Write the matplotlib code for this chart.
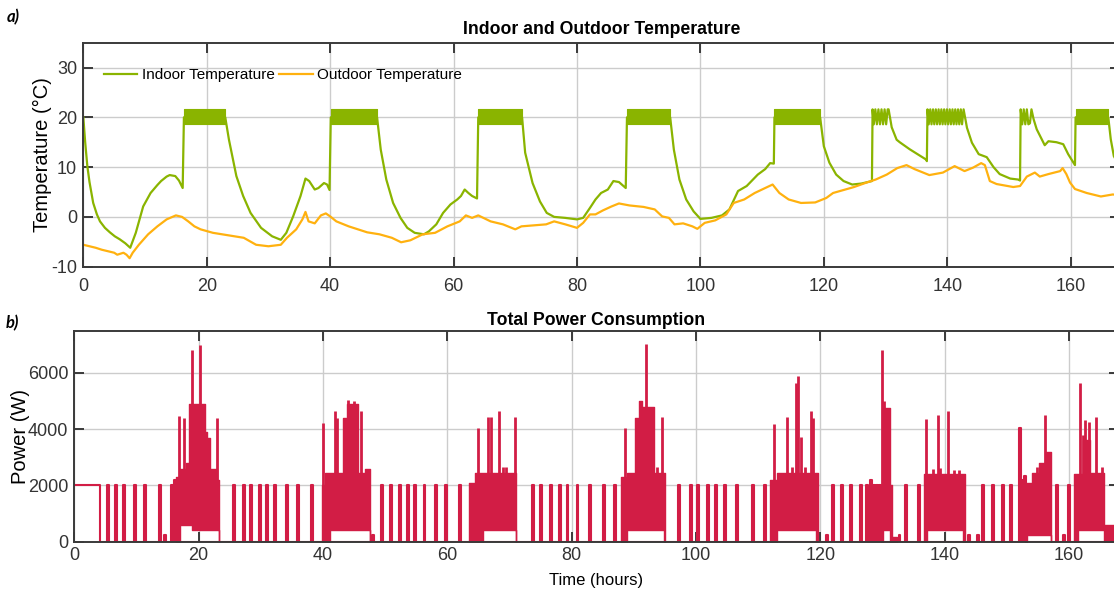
import numpy as np
import matplotlib
matplotlib.use('Agg')
import matplotlib.pyplot as plt

plt.rcParams['font.family'] = ['Liberation Sans', 'DejaVu Sans']
plt.rcParams['axes.unicode_minus'] = False

GREEN = '#8ab400'
ORANGE = '#ffb10f'
RED = '#d21d45'
GRID = '#cccccc'
SPINE = '#3a3a3a'
NARROW = ['Liberation Sans Narrow', 'Liberation Sans', 'DejaVu Sans']

# ---------------- temperature data (hours, deg C) ----------------
indoor_t = [
    0.0, 0.3, 0.65, 1.0, 1.6, 2.2, 2.7, 3.5, 4.3, 5.1, 5.9, 6.8, 7.6, 8.5, 9.7, 10.9, 12.0, 12.6, 13.5, 14.0, 14.9, 15.5, 16.1, 16.3,
    23.0, 23.6, 24.8, 25.9, 27.1, 28.8, 30.6, 32.0, 32.9, 34.0, 35.2, 36.0, 36.6, 37.5, 38.1, 39.0, 39.5, 39.9, 40.1,
    47.6, 48.2, 49.1, 50.2, 51.4, 52.5, 53.7, 55.2, 56.0, 57.2, 58.3, 59.5, 60.6, 61.2, 61.8, 62.4, 63.0, 63.8, 64.0,
    71.1, 71.6, 72.8, 74.0, 75.1, 76.3, 78.1, 80.0, 81.0, 82.1, 83.0, 83.9, 85.0, 85.9, 86.8, 87.9, 88.1,
    95.1, 95.7, 96.6, 97.7, 98.9, 100.0, 101.8, 103.5, 104.7, 106.1, 107.5, 109.3, 110.5, 111.3, 111.9, 112.0,
    119.4, 120.0, 120.9, 122.0, 123.2, 124.6, 126.1, 127.8,
    127.9, 128.1, 128.35, 128.6, 128.85, 129.1, 129.35, 129.6, 129.85, 130.1, 130.35, 130.5,
    131.0, 131.8, 132.3, 133.9, 136.6, 136.7,
    136.8, 137.0, 137.25, 137.45, 137.7, 137.9, 138.15, 138.35, 138.6, 138.8, 139.05, 139.25, 139.5, 139.7,
    139.95, 140.15, 140.4, 140.6, 140.85, 141.05, 141.3, 141.5, 141.75, 141.95, 142.2, 142.4, 142.65,
    143.2, 144.0, 145.1, 146.4, 147.5, 148.5, 150.2, 151.5, 151.8,
    151.9, 152.15, 152.4, 152.65, 152.9, 153.15, 153.4, 153.65,
    154.0, 154.5, 155.3, 155.8, 156.4, 157.7, 158.8, 159.6, 160.7, 160.8,
    166.1, 166.5, 167.0, 168.0,
]
indoor_T = [
    20.0, 15.0, 10.2, 7.0, 2.8, 0.5, -0.9, -2.2, -3.1, -3.9, -4.5, -5.3, -6.2, -3.2, 2.1, 4.8, 6.4, 7.2, 8.1, 8.4, 8.2, 7.3, 5.8, 20.0,
    20.0, 15.5, 8.2, 4.2, 0.8, -2.2, -3.9, -4.6, -3.2, 0.1, 4.2, 7.7, 7.2, 5.5, 5.8, 6.8, 6.5, 5.4, 20.0,
    20.0, 13.5, 7.5, 2.8, -0.2, -2.2, -3.2, -3.5, -2.9, -1.5, 0.8, 2.5, 3.5, 4.2, 5.5, 4.8, 4.2, 3.7, 20.0,
    20.0, 12.9, 6.8, 3.1, 0.8, 0.0, -0.2, -0.5, -0.2, 1.8, 3.5, 4.8, 5.5, 7.2, 7.0, 5.8, 20.0,
    20.0, 13.5, 7.5, 3.5, 1.1, -0.4, -0.2, 0.3, 1.5, 5.2, 6.2, 8.5, 9.6, 10.8, 10.7, 20.0,
    20.0, 14.2, 10.9, 8.5, 7.2, 6.5, 6.7, 7.2,
    21.6, 18.6, 21.6, 18.6, 21.6, 18.6, 21.6, 18.6, 21.6, 18.6, 21.6, 21.6,
    18.0, 15.5, 15.0, 13.6, 11.5, 11.2,
    21.6, 18.6, 21.6, 18.6, 21.6, 18.6, 21.6, 18.6, 21.6, 18.6, 21.6, 18.6, 21.6, 18.6,
    21.6, 18.6, 21.6, 18.6, 21.6, 18.6, 21.6, 18.6, 21.6, 18.6, 21.6, 18.6, 21.6,
    17.9, 14.9, 12.6, 12.0, 10.0, 8.6, 7.7, 7.5, 7.3,
    21.6, 18.6, 21.6, 18.6, 21.6, 18.6, 18.8, 21.6,
    19.6, 17.6, 15.6, 14.4, 15.2, 15.0, 14.6, 12.6, 10.4, 20.0,
    20.0, 15.6, 12.2, 10.0,
]

# thermostat cycling periods (dense on/off band)
band_start = [16.3, 40.1, 64.0, 88.1, 112.0, 160.8]
band_end = [23.0, 47.6, 71.1, 95.1, 119.4, 166.1]
band_low, band_high = 18.6, 21.6

outdoor_t = [
    0, 1, 2, 3, 4, 5, 5.5, 6.5, 7.0, 7.5,
    8.0, 9.0, 10.5, 12.0, 13.5, 15.0, 16.0, 17.0, 18.0, 19.0,
    21, 24, 26, 28, 30, 32, 33, 34.5, 35.5, 36.0,
    36.5, 37.5, 38.5, 39.3, 40, 41, 43, 46, 48, 50,
    51.5, 53, 55, 57, 59, 61, 62, 63, 64, 66,
    68, 70, 71, 73, 75, 76.3, 78.1, 80, 81, 82.1,
    83, 84.2, 85.6, 86.8, 88.5, 90.8, 92.6, 93.8, 94.9, 95.8,
    97.2, 98.7, 99.5, 100.7, 102.4, 104.2, 105.4, 107.1, 108.8, 110.5,
    111.7, 112.8, 114.3, 116.3, 118.6, 120.4, 121.5, 123.2, 124.9, 126.7,
    128.4, 130.2, 131.9, 133.4, 134.7, 137.1, 139.3, 141.2, 142.8, 144.2,
    145.5, 146.1, 146.9, 148.0, 150.7, 151.8, 152.9, 154.2, 155.0, 156.4,
    158.3, 158.7, 159.3, 159.9, 160.7, 162.6, 164.9, 166.8, 168.0,
]
outdoor_T = [
    -5.6, -5.9, -6.2, -6.6, -6.9, -7.2, -7.6, -7.2, -7.6, -8.3,
    -7.2, -5.6, -3.5, -1.9, -0.5, 0.3, 0.0, -0.9, -1.9, -2.5,
    -3.2, -3.8, -4.2, -5.6, -5.9, -5.6, -4.2, -2.5, -0.5, 1.0,
    -0.9, -1.3, 0.3, 0.7, 0.1, -0.9, -1.9, -3.1, -3.5, -4.2,
    -5.1, -4.7, -3.5, -3.2, -1.9, -0.9, 0.3, -0.2, 0.3, -0.9,
    -1.5, -2.5, -1.9, -1.7, -1.5, -0.9, -1.5, -2.2, -1.2, 0.5,
    0.5, 1.3, 2.1, 2.7, 2.3, 2.0, 1.5, 0.1, -0.2, -1.5,
    -1.3, -1.9, -2.4, -1.2, -0.7, 0.5, 2.8, 3.5, 4.8, 5.8,
    6.5, 4.8, 3.5, 2.8, 2.9, 3.8, 4.8, 5.4, 6.0, 6.8,
    7.5, 8.5, 9.8, 10.4, 9.6, 8.4, 8.9, 10.2, 9.2, 9.9,
    10.8, 10.4, 7.2, 6.6, 6.0, 6.2, 8.1, 8.9, 8.1, 8.6,
    9.2, 9.8, 8.6, 6.9, 5.6, 4.8, 4.1, 4.5, 4.4,
]

# ---------------- power data (hours, W) ----------------
t_end = 168.0
initial_power = 2000
initial_on_until = 4.2
pulse_width = 0.3

# short heater pulses between the busy periods
pulse_t = [5.3, 6.6, 7.9, 9.6, 11.2, 13.7, 14.5, 15.6, 16.1,
           25.6, 27.1, 28.3, 29.7, 30.8, 32.2, 34.1, 35.8, 38.1,
           47.9, 49.3, 50.8, 52.2, 53.6, 54.7, 56.2, 58.0, 59.6, 61.9,
           73.6, 75.0, 76.5, 78.0, 79.2, 80.8, 82.8, 85.0, 86.8,
           97.2, 99.1, 100.2, 101.8, 103.1, 104.6, 106.5, 109.1, 110.9,
           120.9, 121.9, 123.3, 124.8, 126.4, 127.4, 128.0, 128.5, 129.0, 129.4,
           132.6, 133.6, 135.7,
           143.8, 145.3, 146.1, 147.7, 149.2, 150.6, 152.0, 152.4, 152.8,
           157.9, 159.1, 159.9]
pulse_p = [2000, 2000, 2000, 2000, 2000, 2000, 220, 2000, 2200,
           2000, 2000, 2000, 2000, 2000, 2000, 2000, 2000, 2000,
           220, 2000, 2000, 2000, 2000, 2000, 2000, 2000, 2000, 2000,
           2000, 2000, 2000, 2000, 2000, 2000, 2000, 2000, 2000,
           2000, 2000, 2000, 2000, 2000, 2000, 2000, 2000, 2000,
           220, 2000, 2000, 2000, 2000, 2000, 2200, 2000, 2000, 2000,
           220, 2000, 2000,
           220, 220, 2000, 2000, 2000, 2000, 4040, 2200, 2350,
           2000, 220, 2000]

# busy periods: step edges, upper and lower level of the dense switching
block1_t = [16.4, 17.0, 17.9, 18.5, 18.9, 21.1, 21.4, 21.9, 23.0, 23.3]
block1_hi = [2300, 2600, 2800, 4900, 4900, 3900, 3700, 2600, 2200, 0]
block1_lo = [0, 600, 600, 600, 400, 400, 400, 400, 400, 0]

block2_t = [39.9, 40.4, 41.1, 43.3, 43.8, 45.6, 46.8, 47.5]
block2_hi = [2000, 2450, 2450, 4400, 4900, 2450, 2600, 0]
block2_lo = [0, 0, 400, 400, 400, 400, 400, 0]

block3_t = [63.5, 64.5, 65.8, 71.0]
block3_hi = [2100, 2450, 2450, 0]
block3_lo = [0, 0, 400, 0]

block4_t = [87.9, 88.9, 90.2, 90.8, 91.3, 93.3, 94.8, 95.0]
block4_hi = [2300, 2450, 4400, 5000, 4800, 2450, 2450, 0]
block4_lo = [0, 400, 400, 400, 400, 400, 0, 0]

block5_t = [111.9, 113.0, 119.3, 119.6]
block5_hi = [2200, 2450, 2450, 0]
block5_lo = [0, 400, 0, 0]

block6_t = [129.8, 130.1, 131.2, 131.5, 132.4]
block6_hi = [2000, 4760, 2000, 150, 0]
block6_lo = [0, 400, 0, 0, 0]

block7_t = [136.7, 137.2, 143.0, 143.3]
block7_hi = [2400, 2400, 2400, 0]
block7_lo = [0, 400, 0, 0]

block8_t = [153.0, 153.3, 154.0, 155.2, 156.4, 157.2]
block8_hi = [2100, 2100, 2450, 2800, 3200, 0]
block8_lo = [0, 250, 250, 250, 250, 0]

block9_t = [160.8, 161.4, 162.2, 163.4, 165.6, 168.0]
block9_hi = [2400, 2400, 3600, 2450, 600, 0]
block9_lo = [0, 400, 400, 400, 0, 0]

# tall peaks inside the busy periods
spike_t = [16.8, 17.7, 18.9, 20.3, 22.9,
           40.0, 41.9, 42.3, 44.1, 45.0, 46.1,
           65.0, 66.6, 67.0, 68.4, 69.0, 69.5, 70.9,
           88.6, 92.0, 93.8, 94.5,
           112.5, 114.6, 115.5, 116.1, 116.5, 116.9, 117.5, 118.5, 118.8,
           130.0, 130.3, 131.1,
           137.0, 138.2, 138.9, 139.3, 140.6, 141.5, 142.3,
           154.9, 156.1,
           161.8, 162.3, 162.6, 163.2, 164.4, 165.3]
spike_p = [4450, 4390, 6800, 7000, 4390,
           4210, 4630, 4390, 5020, 5000, 4630,
           4040, 4430, 4430, 4630, 2660, 2660, 4430,
           4040, 7040, 2650, 4430,
           4190, 4430, 2650, 5640, 5900, 3720, 2650, 4630, 4390,
           6800, 5000, 4760,
           4360, 2600, 4510, 2610, 4630, 2550, 2550,
           2660, 4510,
           5640, 3800, 4330, 4270, 4430, 2660]

blocks = [(block1_t, block1_lo, block1_hi), (block2_t, block2_lo, block2_hi),
          (block3_t, block3_lo, block3_hi), (block4_t, block4_lo, block4_hi),
          (block5_t, block5_lo, block5_hi), (block6_t, block6_lo, block6_hi),
          (block7_t, block7_lo, block7_hi), (block8_t, block8_lo, block8_hi),
          (block9_t, block9_lo, block9_hi)]


def style_axes(ax, xpad, ypad):
    ax.grid(True, color=GRID, linewidth=1.0)
    ax.set_axisbelow(True)
    for s in ax.spines.values():
        s.set_color(SPINE)
        s.set_linewidth(1.4)
    ax.tick_params(direction='in', length=7, width=1.4, color=SPINE,
                   top=True, right=True, labelsize=13, labelcolor='#333333')
    ax.tick_params(axis='x', pad=xpad)
    ax.tick_params(axis='y', pad=ypad)
    ax.set_xlim(0, 168)
    ax.set_xticks(np.arange(0, 161, 20))


fig = plt.figure(figsize=(11.14, 5.99), dpi=100)
ax1 = fig.add_axes([0.0748, 0.5548, 0.9306, 0.3740])
ax2 = fig.add_axes([0.0667, 0.0957, 0.9374, 0.3523])

# ---- top: temperatures ----
ax1.plot(indoor_t, indoor_T, color=GREEN, lw=1.6, label='Indoor Temperature')
ax1.plot(outdoor_t, outdoor_T, color=ORANGE, lw=1.6, label='Outdoor Temperature')
for t0, t1 in zip(band_start, band_end):
    ax1.fill_between([t0, t1], band_low, band_high, facecolor=GREEN,
                     edgecolor=GREEN, lw=0.8)
style_axes(ax1, 8, 4.5)
ax1.set_ylim(-10, 35)
ax1.set_yticks([-10, 0, 10, 20, 30])
ax1.set_ylabel('Temperature (°C)', fontsize=14.5)
ax1.yaxis.set_label_coords(-0.030, 0.5)
ax1.set_title('Indoor and Outdoor Temperature', fontsize=12.7, fontweight='bold',
              family=NARROW, pad=6)
ax1.legend(loc='center left', bbox_to_anchor=(0.0196, 0.856), ncol=2, frameon=False,
           handlelength=2.2, handletextpad=0.3, columnspacing=0.3, borderpad=0,
           borderaxespad=0, prop={'family': NARROW, 'size': 11})

# ---- bottom: power ----
xs = [0.0, initial_on_until, initial_on_until]
ys = [initial_power, initial_power, 0]
for t, p in zip(pulse_t, pulse_p):
    xs += [t, t, t + pulse_width, t + pulse_width]
    ys += [0, p, p, 0]
xs.append(t_end)
ys.append(0)
ax2.plot(xs, ys, color=RED, lw=1.5)
for bt, blo, bhi in blocks:
    ax2.fill_between(bt, blo, bhi, step='post', facecolor=RED, edgecolor=RED, lw=1.0)
ax2.vlines(spike_t, 1000, spike_p, color=RED, lw=2.0)
style_axes(ax2, 4, 4.3)
ax2.set_ylim(0, 7500)
ax2.set_yticks([0, 2000, 4000, 6000])
ax2.set_ylabel('Power (W)', fontsize=14.5)
ax2.yaxis.set_label_coords(-0.042, 0.5)
ax2.set_xlabel('Time (hours)', fontsize=12, labelpad=6)
ax2.set_title('Total Power Consumption', fontsize=12.7, fontweight='bold',
              family=NARROW, pad=4)

fig.text(0.0117, 0.9716, 'a)', fontsize=12, fontweight='bold', fontstyle='italic',
         family=['Lato', 'DejaVu Sans'], ha='center', va='center')
fig.text(0.0108, 0.4608, 'b)', fontsize=12, fontweight='bold', fontstyle='italic',
         family=['Lato', 'DejaVu Sans'], ha='center', va='center')

fig.savefig('out.png', dpi=100)
